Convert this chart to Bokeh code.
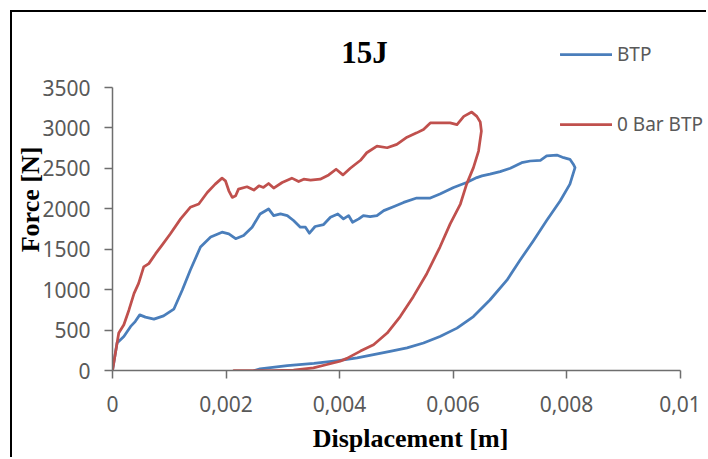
from bokeh.plotting import figure
from bokeh.models import Range1d, FixedTicker, Legend, LegendItem, Label
from bokeh.embed import file_html
from bokeh.resources import INLINE

# ---- data ----
btp_disp = [0, 0.00008, 0.0002, 0.00032, 0.0004, 0.00048, 0.00058, 0.00073, 0.0009, 0.00108,
            0.00123, 0.00137, 0.00155, 0.00173, 0.00193, 0.00205, 0.00217, 0.00231, 0.00246, 0.0026,
            0.00275, 0.00284, 0.00296, 0.00308, 0.00319, 0.00331, 0.0034, 0.00347, 0.00357, 0.00372,
            0.00384, 0.00397, 0.00407, 0.00416, 0.00423, 0.00434, 0.00442, 0.00454, 0.00466, 0.00478,
            0.00495, 0.00513, 0.00536, 0.0056, 0.00577, 0.00601, 0.00624, 0.00642, 0.00651, 0.00665,
            0.00683, 0.00701, 0.00721, 0.00736, 0.00754, 0.00765, 0.00783, 0.00795, 0.00806, 0.00812,
            0.00815,
            0.00806, 0.00789, 0.00765, 0.00742, 0.00718, 0.00695, 0.00665, 0.00636, 0.00607, 0.00577,
            0.00548, 0.00519, 0.00489, 0.0046, 0.00431, 0.00401, 0.0039, 0.00355, 0.00308, 0.0026,
            0.0025]
btp_force = [0, 340, 420, 545, 605, 688, 660, 635, 675, 758,
             995, 1240, 1527, 1650, 1711, 1690, 1630, 1670, 1772, 1936,
             1998, 1916, 1936, 1916, 1855, 1772, 1772, 1698, 1781, 1805,
             1895, 1936, 1875, 1916, 1834, 1875, 1916, 1903, 1916, 1977,
             2026, 2079, 2133, 2133, 2182, 2264, 2325, 2386, 2407, 2428,
             2460, 2501, 2570, 2591, 2600, 2653, 2665, 2632, 2612, 2551,
             2510,
             2305, 2100, 1855, 1609, 1363, 1117, 872, 667, 524, 421,
             340, 279, 237, 196, 156, 125, 115, 88, 61, 20,
             0]

bar0_disp = [0, 0.00011, 0.0002, 0.00029, 0.00038, 0.00046, 0.00055, 0.00064, 0.00076, 0.00087,
             0.00102, 0.0012, 0.00137, 0.00152, 0.00167, 0.00181, 0.00193, 0.00199, 0.00205, 0.00211,
             0.00217, 0.00222, 0.00237, 0.00249, 0.00258, 0.00266, 0.00275, 0.00284, 0.00299, 0.00316,
             0.00328, 0.00337, 0.00349, 0.00366, 0.00381, 0.00394, 0.00406, 0.00419, 0.00437, 0.00448,
             0.00466, 0.00484, 0.00501, 0.00519, 0.00536, 0.00548, 0.0056, 0.00577, 0.00595, 0.00607,
             0.00619, 0.00633, 0.00642, 0.00648, 0.0065,
             0.00645, 0.00636, 0.00624, 0.00613, 0.00595, 0.00577, 0.00554, 0.0053, 0.00507, 0.00484,
             0.0046, 0.00437, 0.00413, 0.00401, 0.00378, 0.00354, 0.00319, 0.0028, 0.00214]
bar0_force = [0, 463, 565, 749, 954, 1077, 1281, 1322, 1445, 1547,
              1691, 1875, 2018, 2059, 2202, 2305, 2379, 2346, 2223, 2141,
              2161, 2243, 2272, 2231, 2284, 2264, 2313, 2256, 2325, 2379,
              2337, 2366, 2354, 2366, 2419, 2489, 2419, 2501, 2600, 2693,
              2776, 2755, 2796, 2886, 2939, 2980, 3062, 3062, 3062, 3041,
              3143, 3196, 3143, 3074, 2960,
              2714, 2509, 2305, 2059, 1813, 1527, 1200, 913, 667, 463,
              319, 240, 150, 114, 74, 33, 4, 0, 0]

x_ticks = [0, 0.002, 0.004, 0.006, 0.008, 0.01]
x_tick_labels = ["0", "0,002", "0,004", "0,006", "0,008", "0,01"]
y_ticks = [0, 500, 1000, 1500, 2000, 2500, 3000, 3500]

series_names = ["BTP", "0 Bar BTP"]
series_colors = ["#4a7ebb", "#c0504d"]
title_text = "15J"

# ---- figure ----
p = figure(width=696, height=447, output_backend="svg", toolbar_location=None,
           x_range=Range1d(0, 0.010502), y_range=Range1d(0, 4229.7),
           min_border_left=100, min_border_right=0, min_border_top=16, min_border_bottom=89)
p.styles = {"margin-left": "10px", "margin-top": "10px",
            "border-left": "2px solid black", "border-top": "2px solid black"}
p.background_fill_color = "white"
p.border_fill_color = "white"
p.outline_line_color = None
p.grid.visible = False

tick_font = "Noto Sans"
for ax in (p.xaxis[0], p.yaxis[0]):
    ax.axis_line_color = "#6e6e6e"
    ax.axis_line_width = 1.5
    ax.major_tick_line_color = "#6e6e6e"
    ax.major_tick_line_width = 1.5
    ax.major_tick_in = 0
    ax.major_tick_out = 8
    ax.minor_tick_line_color = None
    ax.major_label_text_font = tick_font
    ax.major_label_text_font_size = "21px"
    ax.major_label_text_color = "#595959"
    ax.axis_label_text_font = "Liberation Serif"
    ax.axis_label_text_font_style = "bold"
    ax.axis_label_text_font_size = "26px"
    ax.axis_label_text_color = "black"

p.xaxis.bounds = (x_ticks[0], x_ticks[-1])
p.xaxis.ticker = FixedTicker(ticks=x_ticks)
p.xaxis.major_label_overrides = {t: s for t, s in zip(x_ticks, x_tick_labels)}
p.xaxis.major_label_standoff = 17
p.xaxis.axis_label = "Displacement [m]"
p.xaxis.axis_label_standoff = 9

p.yaxis.bounds = (y_ticks[0], y_ticks[-1])
p.yaxis.ticker = FixedTicker(ticks=y_ticks)
p.yaxis.major_label_standoff = 14
p.yaxis.axis_label = "Force [N]"
p.yaxis.axis_label_standoff = -6

rb = p.line(btp_disp, btp_force, line_color=series_colors[0], line_width=2.75,
            line_join="round", line_cap="round")
rr = p.line(bar0_disp, bar0_force, line_color=series_colors[1], line_width=2.75,
            line_join="round", line_cap="round")

title = Label(x=252, y=318, x_units="screen", y_units="screen", text=title_text,
              text_font="Liberation Serif", text_font_style="bold", text_font_size="31px",
              text_color="black", text_align="center", text_baseline="middle")
p.add_layout(title)

legend = Legend(items=[LegendItem(label=series_names[0], renderers=[rb]),
                       LegendItem(label=series_names[1], renderers=[rr])],
                location=(448, 231), glyph_width=52, glyph_height=30, label_height=30,
                spacing=40, padding=0, margin=0, label_standoff=5,
                border_line_alpha=0, background_fill_alpha=0,
                label_text_font=tick_font, label_text_font_size="19px",
                label_text_color="#595959")
p.add_layout(legend)

open("out.html", "w").write(file_html(p, INLINE))
